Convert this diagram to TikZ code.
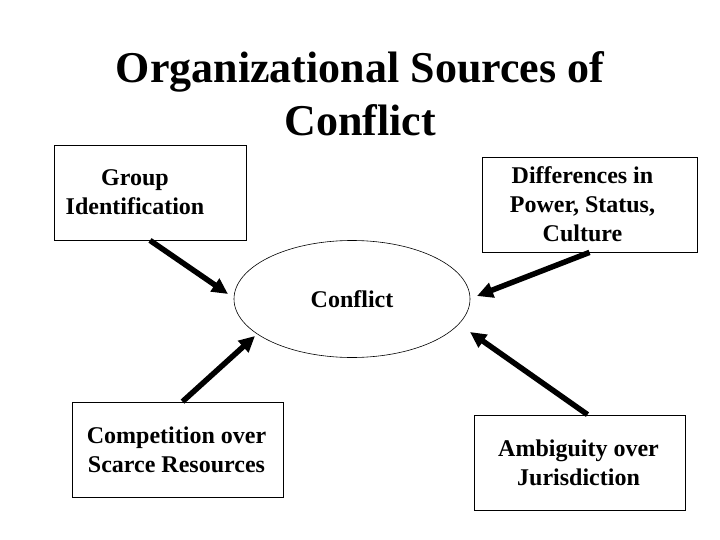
\documentclass[tikz,border=0pt]{standalone}
\usepackage{fontspec}
\setmainfont{Liberation Serif}
\usetikzlibrary{shapes.geometric, arrows.meta}

\begin{document}
\begin{tikzpicture}[x=1pt, y=-1pt,
		srcbox/.style = {draw, line width=0.8pt, inner sep=0pt},
		srctext/.style = {inner sep=0pt, align=center, font=\fontsize{24}{29}\selectfont\bfseries},
		bigarrow/.style = {line width=5.5pt, -{Triangle[length=16pt, width=15pt]}}]
	\useasboundingbox (0,0) rectangle (720,540);
	\node[anchor=north, inner sep=0pt, align=center, font=\fontsize{44}{53}\selectfont\bfseries] (title) at (360,51) {Organizational Sources of\\Conflict};
	\node[srcbox, minimum width=192pt, minimum height=95pt] (group) at (150,192.5) {};
	\node[srcbox, minimum width=215pt, minimum height=95pt] (diff) at (589.5,204.5) {};
	\node[srcbox, minimum width=211pt, minimum height=95pt] (comp) at (177.5,449.5) {};
	\node[srcbox, minimum width=211pt, minimum height=95pt] (amb) at (579.5,462.5) {};
	% texts sit a little left of the box centres
	\node[srctext] (grouptext) at ([xshift=-15pt]group.center) {Group\\Identification};
	\node[srctext] (difftext) at ([xshift=-7pt]diff.center) {Differences in\\Power, Status,\\Culture};
	\node[srctext] (comptext) at ([xshift=-1pt]comp.center) {Competition over\\Scarce Resources};
	\node[srctext] (ambtext) at ([xshift=-1pt]amb.center) {Ambiguity over\\Jurisdiction};
	\node[ellipse, draw, line width=0.6pt, inner sep=0pt, minimum width=236pt, minimum height=117pt, font=\fontsize{24}{29}\selectfont\bfseries] (conflict) at (352,299) {Conflict};
	% arrow tips, just outside the ellipse
	\coordinate (tipgroup) at (228,294);
	\coordinate (tipdiff) at (477,296);
	\coordinate (tipcomp) at (255,336);
	\coordinate (tipamb) at (470,332);
	\draw[bigarrow] (group.south) -- (tipgroup);
	\draw[bigarrow] (diff.south) -- (tipdiff);
	\draw[bigarrow] ([xshift=5pt]comp.north) -- (tipcomp);
	\draw[bigarrow] ([xshift=8pt]amb.north) -- (tipamb);
\end{tikzpicture}
\end{document}
